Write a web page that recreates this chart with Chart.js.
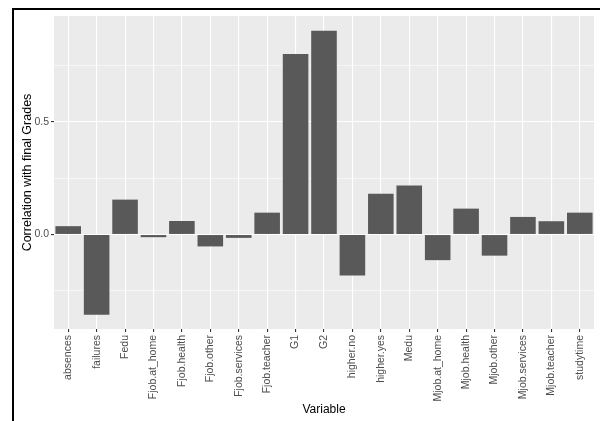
<!DOCTYPE html>
<html>
<head>
<meta charset="utf-8">
<script src="https://cdn.jsdelivr.net/npm/chart.js@4.4.1/dist/chart.umd.min.js"></script>
<style>
  html, body { margin: 0; padding: 0; background: #fff; }
  #wrap { position: relative; width: 600px; height: 421px; overflow: hidden; }
  #frame { position: absolute; left: 12px; top: 8px; right: 0; bottom: 0;
           border-top: 2px solid #000; border-left: 2px solid #000; pointer-events: none; }
  canvas { position: absolute; left: 0; top: 0; }
</style>
</head>
<body>
<div id="wrap">
  <canvas id="myChart" width="600" height="421"></canvas>
  <div id="frame"></div>
</div>
<script>

var xValues = ["absences", "failures", "Fedu", "Fjob.at_home", "Fjob.health", "Fjob.other",
    "Fjob.services", "Fjob.teacher", "G1", "G2", "higher.no", "higher.yes", "Medu",
    "Mjob.at_home", "Mjob.health", "Mjob.other", "Mjob.services", "Mjob.teacher", "studytime"];
var yValues = [0.037, -0.357, 0.155, -0.012, 0.06, -0.053, -0.015, 0.097, 0.802, 0.906,
    -0.182, 0.181, 0.218, -0.114, 0.115, -0.094, 0.078, 0.059, 0.097];
var yTicks = [-0.25, 0, 0.25, 0.5, 0.75];
var yLabelled = [0, 0.5];

var panelBg = {
    id: "panelBg",
    beforeDraw: function(chart) {
        var a = chart.chartArea;
        var ctx = chart.ctx;
        ctx.save();
        ctx.fillStyle = "#EBEBEB";
        ctx.fillRect(a.left, a.top, a.right - a.left, a.bottom - a.top);
        ctx.restore();
    }
};

function isMajor(v) {
    return yLabelled.indexOf(v) >= 0;
}

new Chart("myChart", {
    type: "bar",
    data: {
        labels: xValues,
        datasets: [{
            backgroundColor: "#595959",
            data: yValues,
            barPercentage: 0.9,
            categoryPercentage: 1
        }]
    },
    options: {
        responsive: false,
        animation: false,
        devicePixelRatio: 1,
        layout: { padding: { left: 14, top: 16, right: 6, bottom: 0 } },
        plugins: {
            legend: { display: false },
            tooltip: { enabled: false }
        },
        scales: {
            x: {
                offset: true,
                afterFit: function(scale) { scale.height = 92; },
                grid: {
                    offset: false,
                    color: "#FFFFFF",
                    lineWidth: 1.1,
                    tickColor: "#333333",
                    tickLength: 3
                },
                border: { display: false },
                ticks: {
                    minRotation: 90,
                    maxRotation: 90,
                    autoSkip: false,
                    padding: 3,
                    color: "#4D4D4D",
                    font: { family: "Liberation Sans, Arial", size: 10.5 }
                },
                title: {
                    display: true,
                    text: "Variable",
                    color: "#000000",
                    padding: { top: 0, bottom: 4 },
                    font: { family: "Liberation Sans, Arial", size: 12 }
                }
            },
            y: {
                min: -0.42,
                max: 0.971,
                afterFit: function(scale) { scale.width = 40; },
                afterBuildTicks: function(scale) {
                    scale.ticks = yTicks.map(function(v) { return { value: v }; });
                },
                grid: {
                    color: "#FFFFFF",
                    lineWidth: function(c) { return c.tick && isMajor(c.tick.value) ? 1.1 : 0.55; },
                    tickColor: function(c) { return c.tick && isMajor(c.tick.value) ? "#333333" : "rgba(0,0,0,0)"; },
                    tickLength: 3
                },
                border: { display: false },
                ticks: {
                    padding: 2,
                    color: "#4D4D4D",
                    font: { family: "Liberation Sans, Arial", size: 10.5 },
                    callback: function(v) { return isMajor(v) ? v.toFixed(1) : ""; }
                },
                title: {
                    display: true,
                    text: "Correlation with final Grades",
                    color: "#000000",
                    padding: { top: 6, bottom: 0 },
                    font: { family: "Liberation Sans, Arial", size: 12.5 }
                }
            }
        }
    },
    plugins: [panelBg]
});

</script>
</body>
</html>
